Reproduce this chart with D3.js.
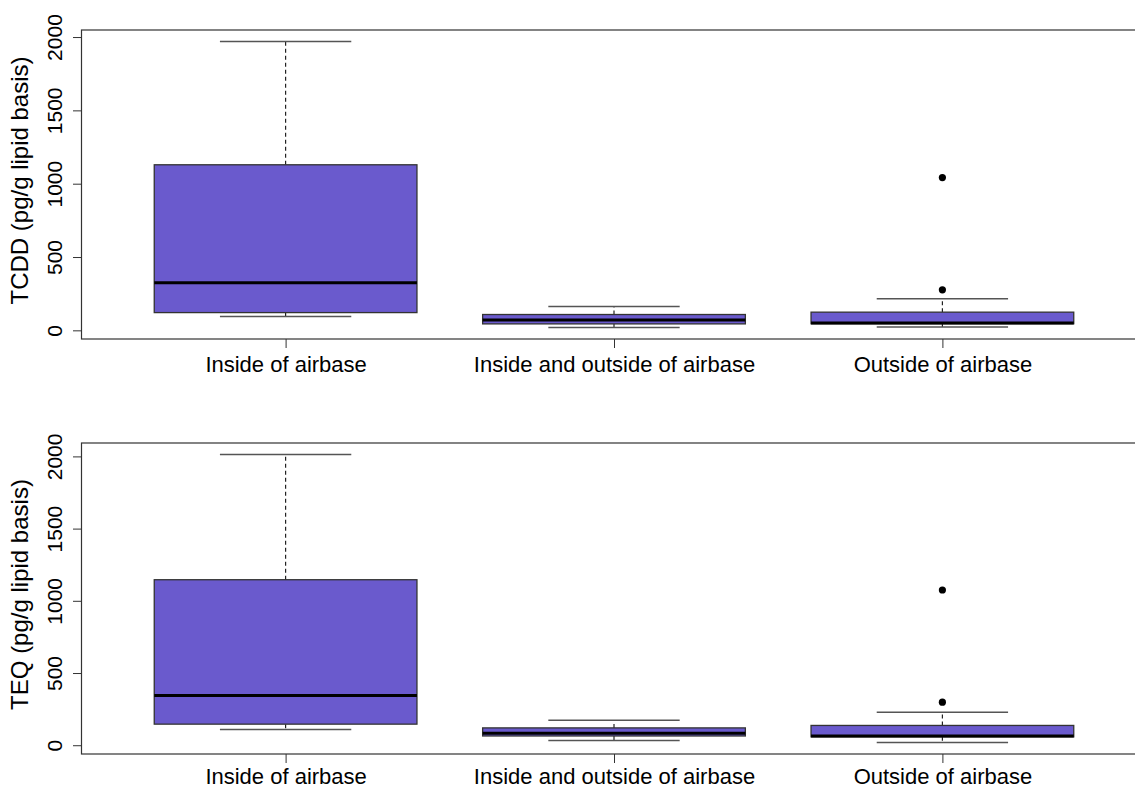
<!DOCTYPE html>
<html><head><meta charset="utf-8">
<script src="https://cdn.jsdelivr.net/npm/d3@7"></script>
<style>body{margin:0;background:#fff}svg{display:block}text{font-family:"Liberation Sans",Arial,sans-serif;fill:#000}</style>
</head><body>
<svg id="c" width="1135" height="789"></svg>
<script>
const categories = ["Inside of airbase", "Inside and outside of airbase", "Outside of airbase"];
// [lower whisker, Q1, median, Q3, upper whisker]
const tcddStats = [[94, 121, 324, 1129, 1970], [19, 44, 70, 108, 162], [22, 45, 50, 124, 215]];
const tcddOutliers = [[], [], [276, 1042]];
const teqStats = [[109, 146, 345, 1146, 2013], [33, 64, 83, 120, 173], [19, 58, 64, 137, 229]];
const teqOutliers = [[], [], [298, 1075]];
const yTicks = [0, 500, 1000, 1500, 2000];
const titles = ["TCDD (pg/g lipid basis)", "TEQ (pg/g lipid basis)"];

const svg = d3.select("#c");
const fill = "#6A5ACD";
const panels = [
  {stats: tcddStats, out: tcddOutliers, title: titles[0], top: 30, bottom: 339, labY: 33},
  {stats: teqStats, out: teqOutliers, title: titles[1], top: 443, bottom: 754, labY: 30}
];
const left = 82, right = 1146;
const x = d3.scaleLinear().domain([0.38, 3.62]).range([left, right]);

panels.forEach(p => {
  const all = p.stats.flat().concat(p.out.flat());
  const mn = d3.min(all), mx = d3.max(all), r = mx - mn;
  const y = d3.scaleLinear().domain([mn - 0.04 * r, mx + 0.04 * r]).range([p.bottom, p.top]);
  const g = svg.append("g");

  const yAx = g.append("g").attr("transform", `translate(${left},0)`)
    .call(d3.axisLeft(y).tickValues(yTicks).tickSize(9).tickPadding(0).tickFormat(d3.format("d")));
  yAx.select(".domain").attr("d", `M-0.5,${y(0)}V${y(2000)}`).attr("stroke", "#333");
  yAx.selectAll(".tick line").attr("stroke", "#333");
  yAx.selectAll(".tick text").attr("x", 0).attr("dy", null)
    .attr("transform", "translate(-20,0) rotate(-90)")
    .attr("text-anchor", "middle").attr("font-size", 21).attr("font-family", "Liberation Sans, Arial, sans-serif");

  const xAx = g.append("g").attr("transform", `translate(0,${p.bottom})`)
    .call(d3.axisBottom(x).tickValues([1, 2, 3]).tickSize(9).tickPadding(0).tickFormat((d, i) => categories[i]));
  xAx.select(".domain").remove();
  xAx.selectAll(".tick line").attr("stroke", "#333");
  xAx.selectAll(".tick text").attr("y", p.labY).attr("dy", null)
    .attr("font-size", 22).attr("font-family", "Liberation Sans, Arial, sans-serif");

  g.append("text").attr("transform", `translate(28,${(p.top + p.bottom) / 2 - 4}) rotate(-90)`)
    .attr("text-anchor", "middle").attr("font-size", 24).text(p.title);

  p.stats.forEach((s, i) => {
    const c = i + 1;
    const [lw, q1, md, q3, uw] = s;
    const bx = g.append("g");
    bx.append("line").attr("x1", x(c)).attr("x2", x(c)).attr("y1", y(q3)).attr("y2", y(uw))
      .attr("stroke", "#222").attr("stroke-width", 1.2).attr("stroke-dasharray", "4,3");
    bx.append("line").attr("x1", x(c)).attr("x2", x(c)).attr("y1", y(q1)).attr("y2", y(lw))
      .attr("stroke", "#222").attr("stroke-width", 1.2).attr("stroke-dasharray", "4,3");
    [lw, uw].forEach(v => bx.append("line").attr("x1", x(c - 0.2)).attr("x2", x(c + 0.2))
      .attr("y1", y(v)).attr("y2", y(v)).attr("stroke", "#555").attr("stroke-width", 1.5));
    bx.append("rect").attr("x", x(c - 0.4)).attr("width", x(c + 0.4) - x(c - 0.4))
      .attr("y", y(q3)).attr("height", y(q1) - y(q3))
      .attr("fill", fill).attr("stroke", "#333").attr("stroke-width", 1.3);
    bx.append("line").attr("x1", x(c - 0.4)).attr("x2", x(c + 0.4)).attr("y1", y(md)).attr("y2", y(md))
      .attr("stroke", "#000").attr("stroke-width", 3);
    p.out[i].forEach(v => bx.append("circle").attr("cx", x(c)).attr("cy", y(v)).attr("r", 3.6).attr("fill", "#000"));
  });

  g.append("rect").attr("x", left - 0.5).attr("y", p.top).attr("width", right - left).attr("height", p.bottom - p.top)
    .attr("fill", "none").attr("stroke", "#333").attr("stroke-width", 1.2);
});
</script>
</body></html>
